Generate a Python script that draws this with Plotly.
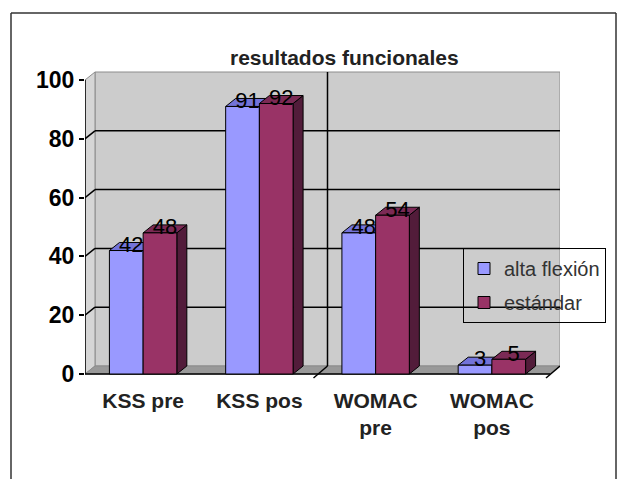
import plotly.graph_objects as go

# ---------------- data ----------------
categories = ["KSS pre", "KSS pos", "WOMAC<br>pre", "WOMAC<br>pos"]
alta_flexion = [42, 91, 48, 3]
estandar = [48, 92, 54, 5]
series_names = ["alta flexión", "estándar"]
y_ticks = [0, 20, 40, 60, 80, 100]
chart_title = "resultados funcionales"

# ---------------- geometry (page pixels; the page body has an 8px margin) ----------------
OFF = 8
W, H = 626 - OFF, 479 - OFF
L, R, T, B = 85 - OFF, 560 - OFF, 70 - OFF, 386 - OFF
X_PX_PER = 116.25
Y0_PX = 374 - OFF
Y_PX_PER = 2.94

x_range = [-0.5, (R - L) / X_PX_PER - 0.5]
y_range = [(Y0_PX - B) / Y_PX_PER, (Y0_PX - T) / Y_PX_PER]
DX = 10 / X_PX_PER
DY = 8 / Y_PX_PER
BW = 0.29

def px_x(p):  # page pixel -> paper
    return (p - OFF - L) / (R - L)

def px_y(p):
    return (B - (p - OFF)) / (B - T)

BLUE, BLUE_TOP = "#9999ff", "#7373d9"
MAROON, MAROON_TOP, MAROON_SIDE = "#993366", "#7b2a55", "#521c3a"

shapes = []

def poly(pts, fill, line_color, lw=1.0, layer="below"):
    path = "M " + " L ".join(f"{x:.5f},{y:.5f}" for x, y in pts) + " Z"
    shapes.append(dict(type="path", path=path, xref="x", yref="y",
                       fillcolor=fill, line=dict(color=line_color, width=lw), layer=layer))

def seg(x0, y0, x1, y1, color="black", w=1.5, layer="below"):
    shapes.append(dict(type="line", x0=x0, y0=y0, x1=x1, y1=y1, xref="x", yref="y",
                       line=dict(color=color, width=w), layer=layer))

xl, xr = -0.5, len(categories) - 0.5
ymax = y_ticks[-1]

# walls and floor
poly([(xl + DX, DY), (xr + DX, DY), (xr + DX, ymax + DY), (xl + DX, ymax + DY)], "#cccccc", "#8c8c8c")
poly([(xl, 0), (xl + DX, DY), (xl + DX, ymax + DY), (xl, ymax)], "#d6d6d6", "#8c8c8c")
poly([(xl, 0), (xr, 0), (xr + DX, DY), (xl + DX, DY)], "#999999", "#8c8c8c")

# gridlines
for v in y_ticks[1:-1]:
    seg(xl, v, xl + DX, v + DY)
    seg(xl + DX, v + DY, xr + DX, v + DY)
seg(1.5 + DX, DY, 1.5 + DX, ymax + DY)

# legend cover over the wall
shapes.append(dict(type="rect", xref="paper", yref="paper",
                   x0=px_x(463), x1=1.0, y0=px_y(319), y1=px_y(248),
                   fillcolor="#cccccc", line=dict(width=0), layer="below"))

# category-axis ticks in depth
for xb in (1.5, 3.5):
    seg(xb - 4 / X_PX_PER, -4 / Y_PX_PER, xb + DX, DY)

# axes lines
seg(xl, 0, xr, 0)
seg(xl, 0, xl, ymax)

# 3D faces of bars
for i, (a, e) in enumerate(zip(alta_flexion, estandar)):
    x0, x1 = i - BW, i
    poly([(x0, a), (x1, a), (x1 + DX, a + DY), (x0 + DX, a + DY)], BLUE_TOP, "black")
    x0, x1 = i, i + BW
    poly([(x1, 0), (x1 + DX, DY), (x1 + DX, e + DY), (x1, e)], MAROON_SIDE, "black")
    poly([(x0, e), (x1, e), (x1 + DX, e + DY), (x0 + DX, e + DY)], MAROON_TOP, "black")

# outer frame (three sides as separate lines)
frame_line = dict(color="#333333", width=1.5)
for (ax0, ay0, ax1, ay1) in [(11, 490, 11, 13), (11, 13, 616, 13), (616, 13, 616, 490)]:
    shapes.append(dict(type="line", xref="paper", yref="paper",
                       x0=px_x(ax0), y0=px_y(ay0), x1=px_x(ax1), y1=px_y(ay1),
                       line=frame_line, layer="above"))

xs = list(range(len(categories)))

fig = go.Figure()
fig.add_trace(go.Bar(x=xs, y=alta_flexion, name=series_names[0], width=BW, offset=-BW,
                     legendgroup="a",
                     marker=dict(color=BLUE, line=dict(color="black", width=1))))
fig.add_trace(go.Bar(x=xs, y=estandar, name=series_names[1], width=BW, offset=0,
                     legendgroup="b",
                     marker=dict(color=MAROON, line=dict(color="black", width=1))))

lab_font = dict(family="Liberation Sans, Arial, sans-serif", size=22, color="black")
LAB_DROP = 2.3
fig.add_trace(go.Scatter(x=[i - BW / 2 + DX / 2 for i in xs], y=[v - LAB_DROP for v in alta_flexion],
                         text=[str(v) for v in alta_flexion], mode="text",
                         textposition="top center", textfont=lab_font,
                         showlegend=False, hoverinfo="skip", cliponaxis=False))
fig.add_trace(go.Scatter(x=[i + BW / 2 + DX / 2 for i in xs], y=[v - LAB_DROP for v in estandar],
                         text=[str(v) for v in estandar], mode="text",
                         textposition="top center", textfont=lab_font,
                         showlegend=False, hoverinfo="skip", cliponaxis=False))

fig.update_layout(
    width=W, height=H, autosize=False,
    margin=dict(l=L, r=W - R, t=T, b=H - B, pad=0),
    paper_bgcolor="white", plot_bgcolor="rgba(0,0,0,0)",
    barmode="overlay",
    shapes=shapes,
    showlegend=True,
    legend=dict(x=px_x(463), y=px_y(248), xanchor="left", yanchor="top",
                bgcolor="rgba(0,0,0,0)", bordercolor="black", borderwidth=1,
                font=dict(family="Liberation Sans, Arial, sans-serif", size=20, color="#333333"),
                traceorder="grouped", tracegroupgap=5),
    annotations=[dict(text=f"<b>{chart_title}</b>", xref="paper", yref="paper",
                      x=px_x(344), y=px_y(57), xanchor="center", yanchor="middle",
                      showarrow=False,
                      font=dict(family="Liberation Sans, Arial, sans-serif", size=21, color="#222222"))],
    xaxis=dict(range=x_range, tickvals=xs, ticktext=categories, showgrid=False,
               zeroline=False, showline=False, ticks="",
               tickfont=dict(family="Liberation Sans, Arial, sans-serif", size=21,
                             color="#222222", weight="bold")),
    yaxis=dict(range=y_range, tickvals=y_ticks, showgrid=False, zeroline=False,
               showline=False, ticks="outside", ticklen=5, tickcolor="black", tickwidth=1.5,
               tickfont=dict(family="Liberation Sans, Arial, sans-serif", size=23,
                             color="black", weight="bold")),
)

fig.write_html("out.html",
               post_script="document.documentElement.style.overflow='hidden';"
                           "document.body.style.overflow='hidden';")
